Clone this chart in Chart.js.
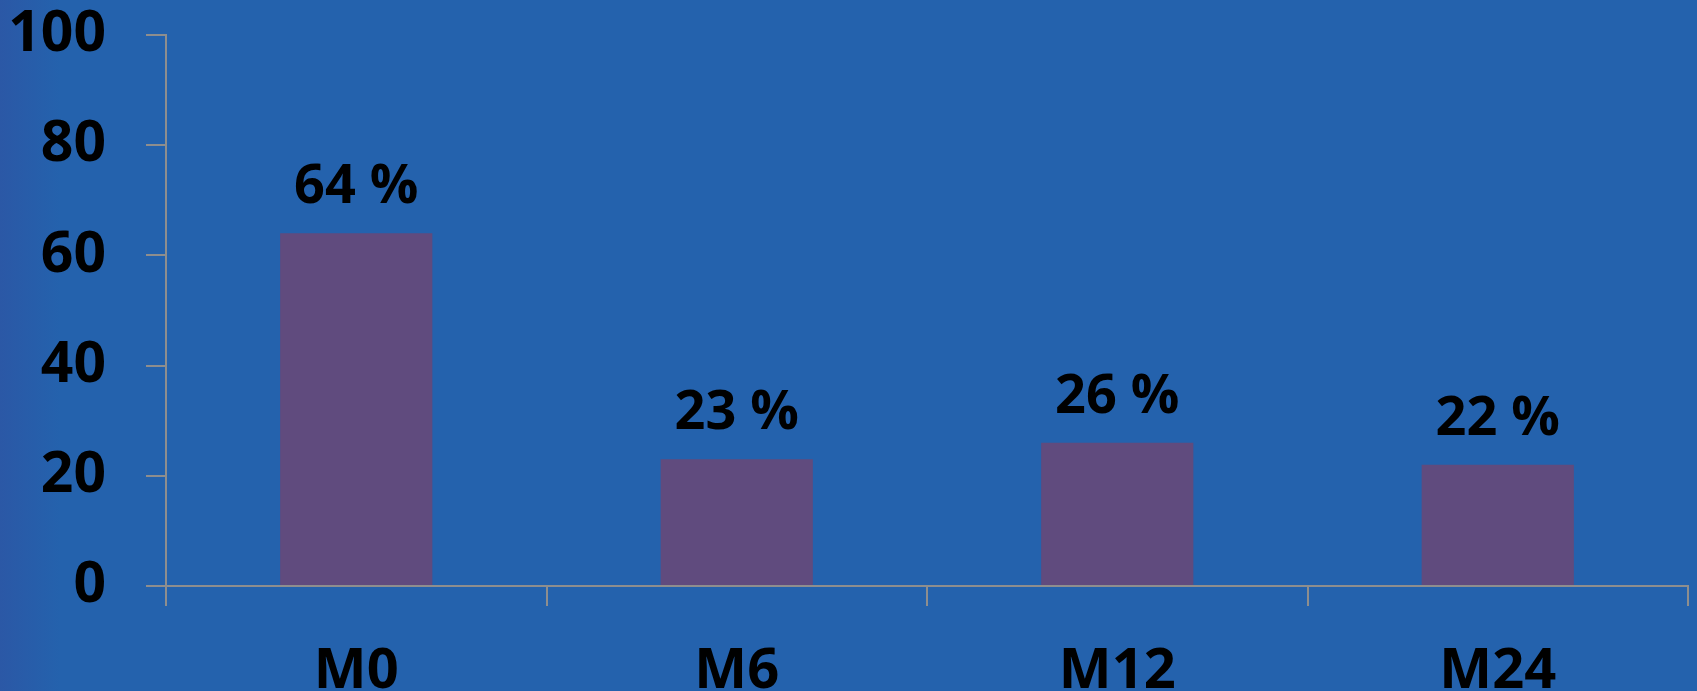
<!DOCTYPE html>
<html>
<head>
<meta charset="utf-8">
<script src="https://cdn.jsdelivr.net/npm/chart.js@4"></script>
<style>
  html, body { margin: 0; padding: 0; background: #2462ad; }
  #wrap { width: 1697px; height: 691px; position: relative;
    background: linear-gradient(90deg, #2b58a6 0px, #2462ad 60px, #2462ad 100%); }
  canvas { display: block; }
</style>
</head>
<body>
<div id="wrap"><canvas id="c" width="1697" height="691"></canvas></div>
<script>
const categories = ["M0", "M6", "M12", "M24"];
const values = [64, 23, 26, 22];
const valueLabels = ["64 %", "23 %", "26 %", "22 %"];
const yTicks = [0, 20, 40, 60, 80, 100];

const FONT = "'Open Sans', 'DejaVu Sans', sans-serif";
const AXIS = '#8e8e8e';

const dataLabelPlugin = {
  id: 'dataLabels',
  afterDatasetsDraw(chart) {
    const ctx = chart.ctx;
    const meta = chart.getDatasetMeta(0);
    ctx.save();
    ctx.font = `bold 54px ${FONT}`;
    ctx.fillStyle = '#000';
    ctx.textAlign = 'center';
    ctx.textBaseline = 'alphabetic';
    meta.data.forEach((bar, i) => {
      ctx.fillText(valueLabels[i], bar.x, bar.y - 30);
    });
    ctx.restore();
  }
};

new Chart(document.getElementById('c'), {
  type: 'bar',
  data: {
    labels: categories,
    datasets: [{
      data: values,
      backgroundColor: '#604b7e',
      borderWidth: 0,
      barPercentage: 0.4,
      categoryPercentage: 1.0
    }]
  },
  options: {
    responsive: false,
    animation: false,
    devicePixelRatio: 1,
    layout: { padding: { top: 35, right: 9, left: 0, bottom: 0 } },
    plugins: { legend: { display: false }, tooltip: { enabled: false } },
    scales: {
      x: {
        offset: true,
        grid: { offset: true, drawOnChartArea: false, drawTicks: true, tickLength: 20, color: AXIS, lineWidth: 2 },
        border: { color: AXIS, width: 2 },
        ticks: { color: '#000', font: { family: FONT, size: 56, weight: 'bold' }, padding: 32 },
        afterFit(scale) { scale.height = 105; scale.paddingLeft = 0; scale.paddingRight = 0; }
      },
      y: {
        min: 0, max: 100,
        afterBuildTicks(scale) { scale.ticks = yTicks.map(v => ({ value: v })); },
        grid: { drawOnChartArea: false, drawTicks: true, tickLength: 20, color: AXIS, lineWidth: 2 },
        border: { color: AXIS, width: 2 },
        ticks: { color: '#000', font: { family: FONT, size: 57, weight: 'bold' }, padding: 40 },
        afterFit(scale) { scale.width = 166; scale.paddingTop = 0; scale.paddingBottom = 0; }
      }
    }
  },
  plugins: [dataLabelPlugin]
});
</script>
</body>
</html>
